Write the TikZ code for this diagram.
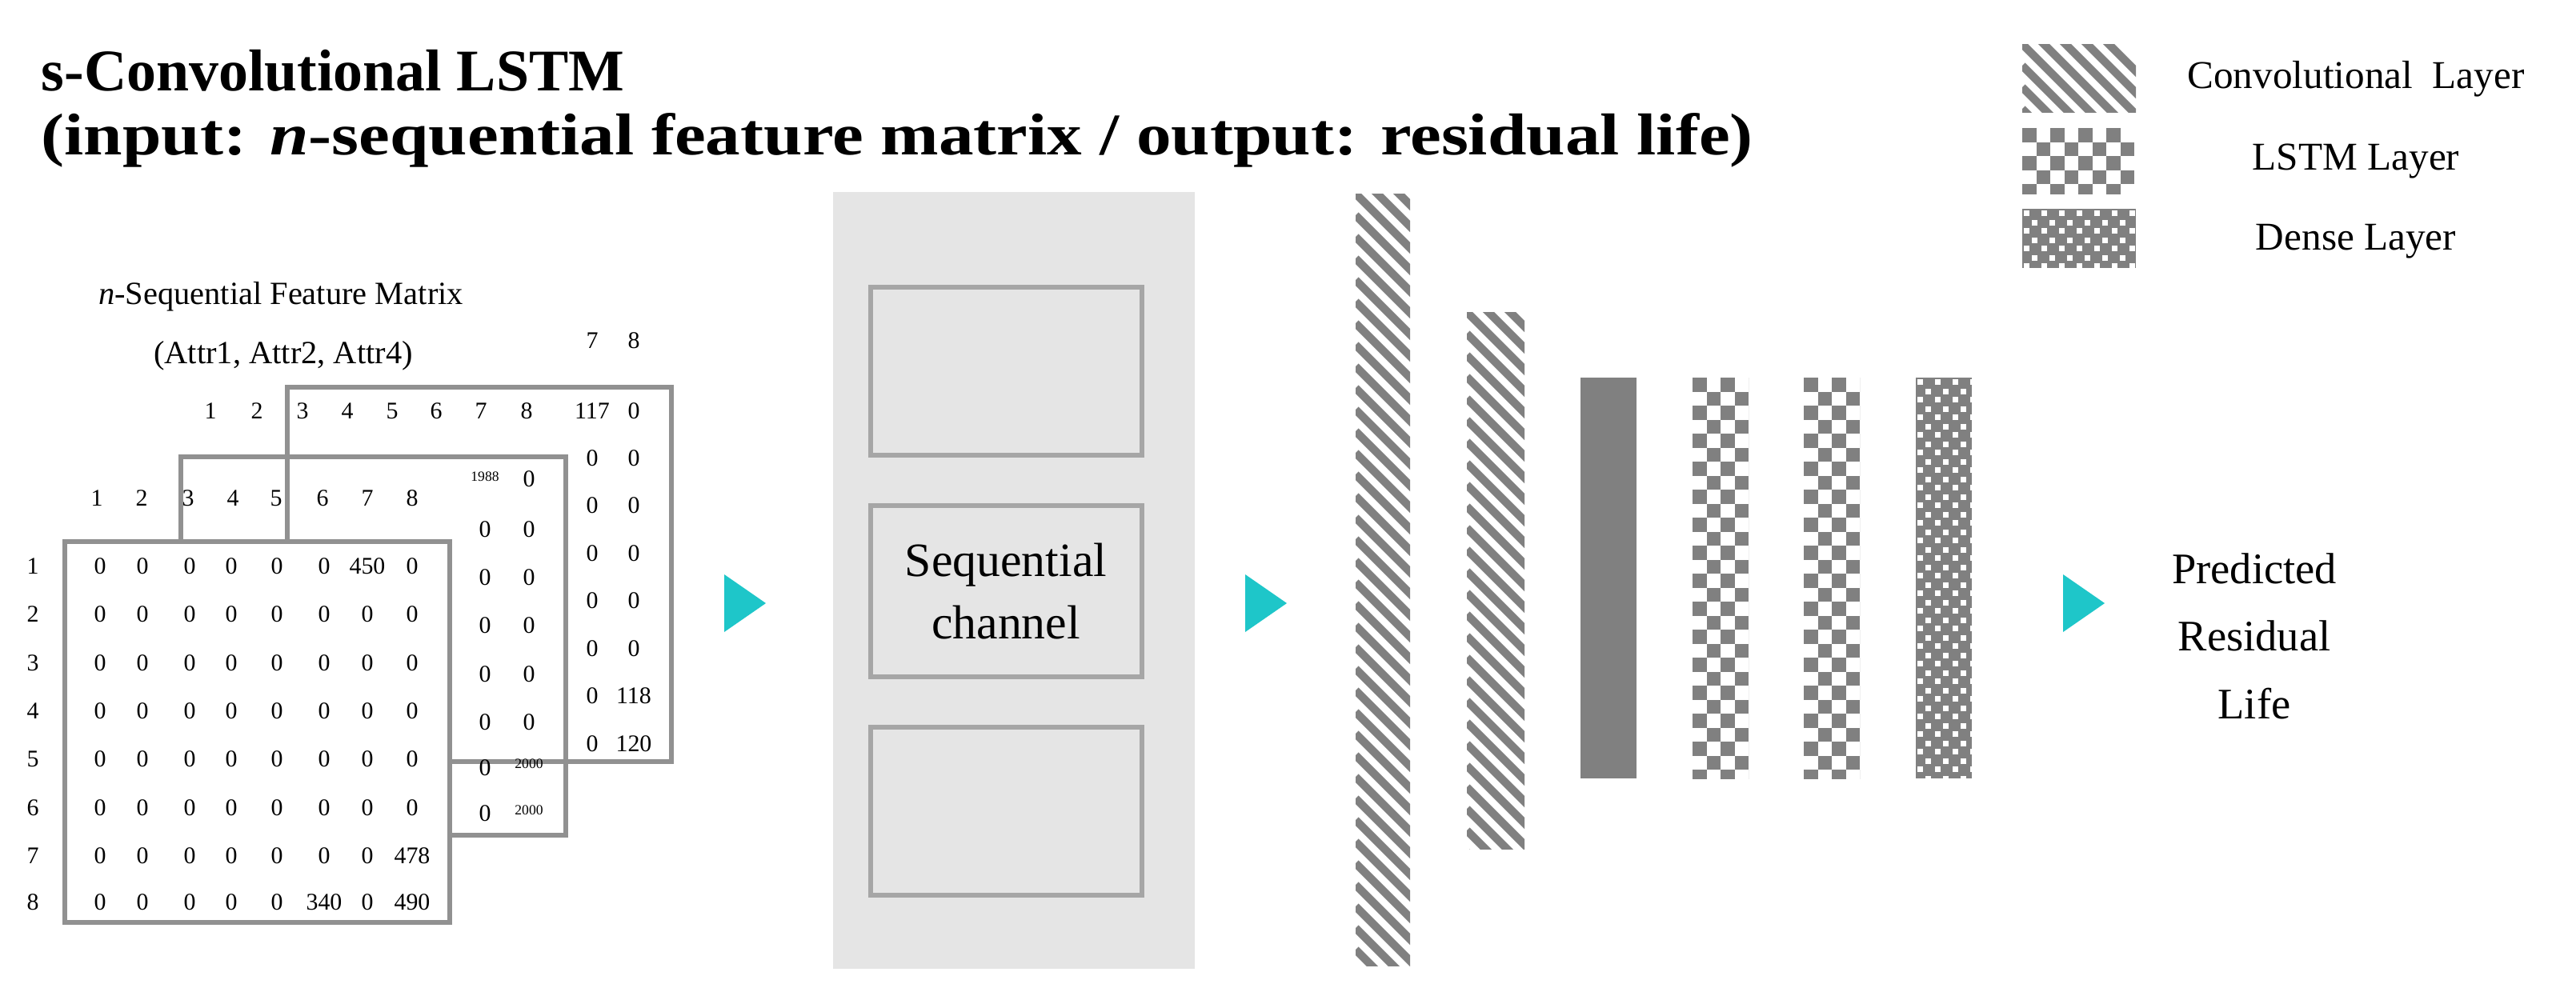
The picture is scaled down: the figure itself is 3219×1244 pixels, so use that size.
\documentclass[tikz,border=0pt]{standalone}
\usepackage{fontspec}
\setmainfont{Liberation Serif}
\begin{document}
\begin{tikzpicture}[x=0.01cm,y=-0.01cm,
  num/.style={font=\fontsize{8.5}{10}\selectfont,inner sep=0pt},
  tiny/.style={font=\fontsize{5}{6}\selectfont,inner sep=0pt},
  mbox/.style={draw=black!43,line width=1.5pt},
  tri/.style={fill=cyc,draw=none},
  ibox/.style={draw=black!35,line width=1.5pt}]
\definecolor{lg}{HTML}{808080}
\definecolor{cyc}{HTML}{1EC6C9}
\useasboundingbox (0,0) rectangle (3219,1244);
\newcommand\convbarX[4]{\begin{scope}\clip (#1,#2) rectangle (#3,#4);
  \foreach \k in {-4,...,50}{\draw[lg,line width=2.9pt] ({#1},{#2+\k*27}) -- ({#1+300},{#2+\k*27+300});}
  \end{scope}}
\newcommand\lstmbarX[4]{\begin{scope}\clip (#1,#2) rectangle (#3,#4);
  \foreach \j in {0,2,...,40}{\foreach \i in {0,2,4,6}{
    \fill[lg] ({#1+\i*17.5},{#2+\j*17.5}) rectangle +(17.5,17.5);
    \fill[lg] ({#1+(\i+1)*17.5},{#2+(\j+1)*17.5}) rectangle +(17.5,17.5);}}
  \end{scope}}
\newcommand\densebarX[4]{\begin{scope}\clip (#1,#2) rectangle (#3,#4);
  \fill[lg] (#1,#2) rectangle (#3,#4);
  \foreach \j in {0,2,...,60}{\foreach \i in {0,2,...,12}{
    \fill[white] ({#1+\i*11+2},{#2+\j*11+2}) rectangle +(7,7);
    \fill[white] ({#1+(\i+1)*11+1},{#2+(\j+1)*11+3}) rectangle +(7,7);}}
  \end{scope}}
% title
\node[anchor=west,font=\fontsize{21}{26}\selectfont\bfseries,inner sep=0pt] (t1) at (51,88) {s-Convolutional LSTM};
\node[anchor=west,font=\fontsize{21}{26}\selectfont\bfseries,inner sep=0pt] (t2) at (51,175) {\scalebox{1.18}[1]{(input: \textit{n}-sequential feature matrix / output: residual life)}};
% legend
\convbarX{2527}{55}{2669}{140}
\lstmbarX{2527}{160}{2669}{242}
\densebarX{2527}{261}{2669}{335}
\node[font=\fontsize{14}{17}\selectfont] (l1) at (2944,99) {Convolutional\ \ Layer};
\node[font=\fontsize{14}{17}\selectfont] (l2) at (2944,201) {LSTM Layer};
\node[font=\fontsize{14}{17}\selectfont] (l3) at (2944,302) {Dense Layer};
% matrix label
\node[font=\fontsize{11.5}{14}\selectfont,inner sep=0pt] (ml1) at (351,371) {\textit{n}-Sequential Feature Matrix};
\node[font=\fontsize{11.5}{14}\selectfont,inner sep=0pt] (ml2) at (354,445) {(Attr1, Attr2, Attr4)};
% back matrix
\draw[mbox] (359,484) rectangle (839,952);
\foreach \x/\t in {263/1,321/2,378/3,434/4,490/5,545/6,601/7,658/8}{\node[num] at (\x,514) {\t};}
\node[num] at (740,426) {7}; \node[num] at (792,426) {8};
\foreach \y/\a/\b in {514/117/0,573/0/0,632/0/0,692/0/0,751/0/0,811/0/0,870/0/118,930/0/120}{
  \node[num] at (740,\y) {\a}; \node[num] at (792,\y) {\b};}
% middle matrix
\draw[mbox] (226,571) rectangle (707,1044);
\foreach \x/\t in {121/1,177/2,235/3,291/4,345/5,403/6,459/7,515/8}{\node[num] at (\x,623) {\t};}
\node[tiny] at (606,596) {1988}; \node[num] at (661,599) {0};
\foreach \y in {662,722,782,843,903}{\node[num] at (606,\y) {0}; \node[num] at (661,\y) {0};}
\node[num] at (606,960) {0}; \node[tiny] at (661,955) {2000};
\node[num] at (606,1017) {0}; \node[tiny] at (661,1013) {2000};
% front matrix
\draw[mbox,fill=white] (81,677) rectangle (562,1153);
\foreach \y [count=\r] in {708,768,829,889,949,1010,1070,1128}{\node[num] at (41,\y) {\r};}
\foreach \y/\row in {708/{0,0,0,0,0,0,450,0},768/{0,0,0,0,0,0,0,0},829/{0,0,0,0,0,0,0,0},889/{0,0,0,0,0,0,0,0},949/{0,0,0,0,0,0,0,0},1010/{0,0,0,0,0,0,0,0},1070/{0,0,0,0,0,0,0,478},1128/{0,0,0,0,0,340,0,490}}{
  \foreach \v [count=\c] in \row {
    \pgfmathsetmacro\xx{{125,178,237,289,346,405,459,515}[\c-1]}
    \node[num] at (\xx,\y) {\v};}}
% arrows
\fill[tri] (905,718) -- (957,754) -- (905,790) -- cycle;
\fill[tri] (1556,718) -- (1608,754) -- (1556,790) -- cycle;
\fill[tri] (2578,718) -- (2630,754) -- (2578,790) -- cycle;
% sequential channel panel
\fill[black!10] (1041,240) rectangle (1493,1211);
\draw[ibox] (1088,359) rectangle (1427,569);
\draw[ibox] (1088,632) rectangle (1427,846);
\draw[ibox] (1088,909) rectangle (1427,1119);
\node[font=\fontsize{17}{22}\selectfont,align=center] (sc) at (1257,739) {Sequential\\channel};
% layers
\convbarX{1694}{242}{1762}{1207}
\convbarX{1833}{390}{1905}{1061}
\fill[lg] (1975,472) rectangle (2045,973);
\lstmbarX{2115}{472}{2185}{973}
\lstmbarX{2254}{472}{2324}{973}
\densebarX{2394}{472}{2464}{973}
\node[font=\fontsize{15.5}{24}\selectfont,align=center] (out) at (2817,795) {Predicted\\Residual\\Life};
\end{tikzpicture}
\end{document}
